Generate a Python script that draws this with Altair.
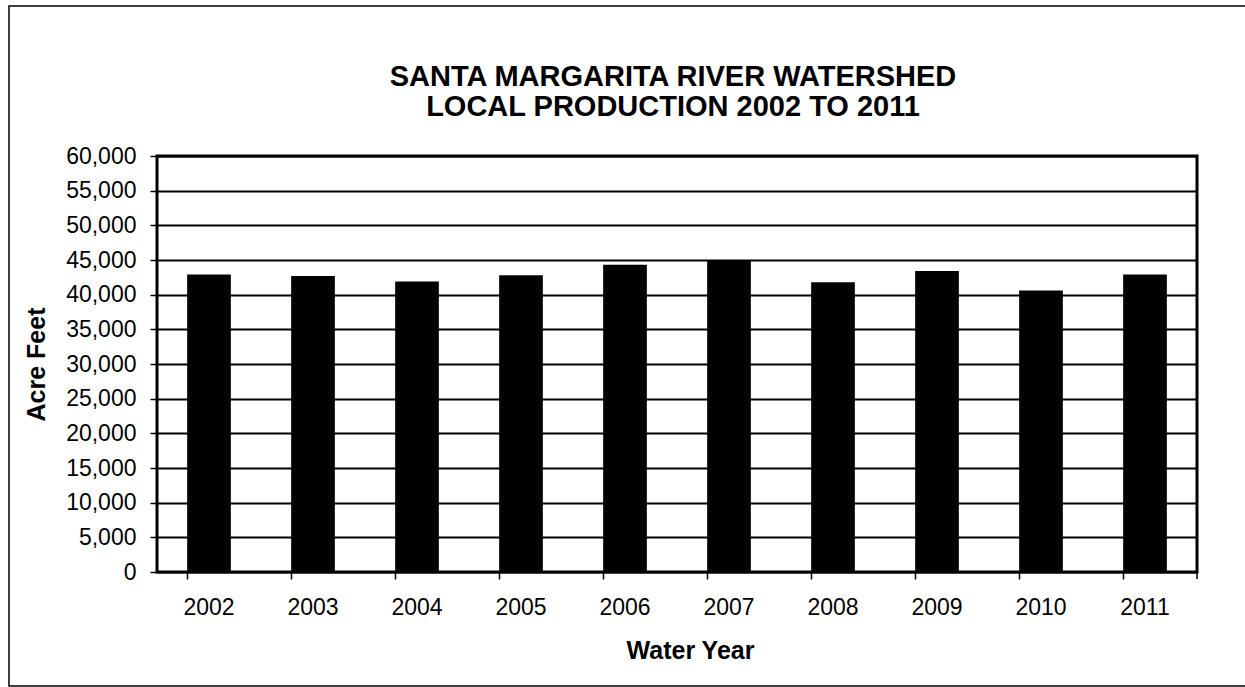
import altair as alt
import pandas as pd

# Local production by water year (acre-feet)
years = ["2002", "2003", "2004", "2005", "2006", "2007", "2008", "2009", "2010", "2011"]
acre_feet = [42900, 42700, 41900, 42800, 44300, 44900, 41800, 43400, 40600, 42900]

# Axis tick values
y_ticks = list(range(0, 60001, 5000))

# Heading lines
heading = ["SANTA MARGARITA RIVER WATERSHED", "LOCAL PRODUCTION 2002 TO 2011"]

df = pd.DataFrame({"year": years, "acre_feet": acre_feet})
one_row = pd.DataFrame({"k": [0]})

FONT = "Liberation Sans"
W, H = 1040, 416

bars = alt.Chart(df).mark_bar(color="black").encode(
    x=alt.X(
        "year:N",
        sort=years,
        title="Water Year",
        scale=alt.Scale(paddingInner=0.58, paddingOuter=0.29),
        axis=alt.Axis(
            labelAngle=0,
            bandPosition=0,
            tickSize=7,
            tickWidth=1.5,
            tickColor="black",
            labelPadding=17,
            labelFontSize=23,
            labelColor="black",
            titleFontSize=25,
            titleFontWeight="bold",
            titleColor="black",
            titlePadding=19,
            titleX=533,
            domain=False,
            grid=False,
        ),
    ),
    y=alt.Y(
        "acre_feet:Q",
        title="Acre Feet",
        scale=alt.Scale(domain=[0, 60000], nice=False),
        axis=alt.Axis(
            values=y_ticks,
            format=",d",
            tickSize=7,
            tickWidth=1.5,
            tickColor="black",
            labelPadding=14,
            labelFontSize=23,
            labelColor="black",
            titleFontSize=25,
            titleFontWeight="bold",
            titleColor="black",
            titlePadding=16,
            grid=True,
            gridColor="black",
            gridWidth=2,
            gridOpacity=1,
            domain=False,
        ),
    ),
)

# closing tick at the right end of the category axis
end_tick = alt.Chart(one_row).mark_rule(color="black", strokeWidth=1.5).encode(
    x=alt.value(W), y=alt.value(H), y2=alt.value(H + 7)
)

# thin border around the whole figure
frame = alt.Chart(one_row).mark_rect(
    fill=None, stroke="black", strokeWidth=1.5, clip=False
).encode(
    x=alt.value(-148), x2=alt.value(W + 100), y=alt.value(-150), y2=alt.value(H + 114)
)

# two-line heading above the plot
title_text = alt.Chart(one_row).mark_text(
    text=heading,
    font=FONT,
    fontSize=29,
    fontWeight="bold",
    color="black",
    align="center",
    baseline="alphabetic",
    lineHeight=30,
).encode(x=alt.value(516), y=alt.value(-70))

chart = (
    alt.layer(frame, bars, end_tick, title_text)
    .properties(
        width=W,
        height=H,
        autosize=alt.AutoSizeParams(type="none"),
        padding={"left": 157, "top": 156, "right": 48, "bottom": 115},
        background="white",
    )
    .configure(font=FONT)
    .configure_view(stroke="black", strokeWidth=3)
    .configure_axis(labelFont=FONT, titleFont=FONT)
)

chart.save("out.html", embed_options={"renderer": "svg", "actions": False})
